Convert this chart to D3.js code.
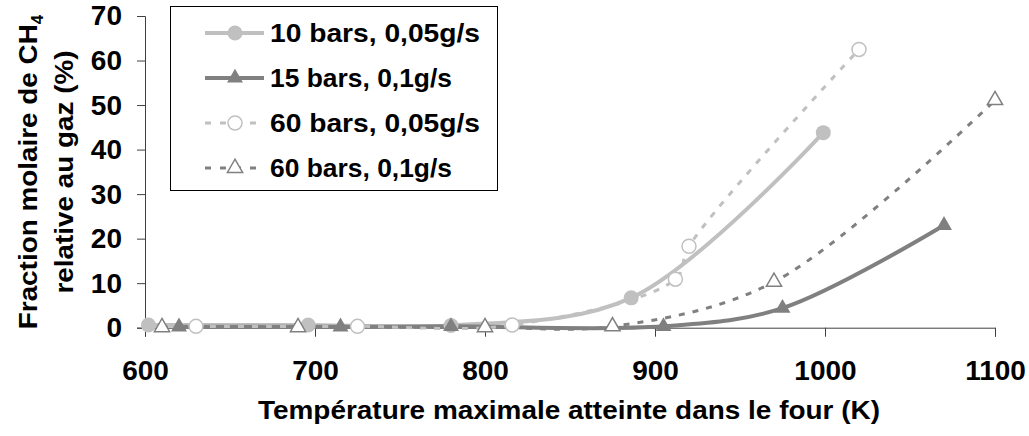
<!DOCTYPE html>
<html><head><meta charset="utf-8">
<script src="https://cdn.jsdelivr.net/npm/d3@7"></script>
<style>body{margin:0;background:#fff}svg{display:block}text{font-family:"Liberation Sans",Arial,sans-serif;font-weight:bold;fill:#000}</style>
</head><body>
<svg id="c" width="1029" height="436"></svg>
<script>
const seriesNames = ["10 bars, 0,05g/s", "15 bars, 0,1g/s", "60 bars, 0,05g/s", "60 bars, 0,1g/s"];
const s1T = [602, 696, 780, 886, 999];
const s1V = [0.6, 0.6, 0.5, 6.7, 43.8];
const s2T = [620, 715, 780, 905, 975, 1070];
const s2V = [0.2, 0.2, 0.3, 0.3, 4.4, 23.0];
const s3T = [630, 725, 816, 912, 920, 1020];
const s3V = [0.3, 0.3, 0.6, 10.9, 18.3, 62.5];
const s4T = [610, 690, 800, 875, 970, 1100];
const s4V = [0.1, 0.1, 0.1, 0.3, 10.3, 51.1];
const xTicks = [600, 700, 800, 900, 1000, 1100];
const yTicks = [0, 10, 20, 30, 40, 50, 60, 70];

const svg = d3.select("#c");
const x = d3.scaleLinear().domain([600, 1100]).range([145, 995]);
const y = d3.scaleLinear().domain([0, 70]).range([327.7, 16]);

// axes
const ax = svg.append("g").attr("transform", `translate(0,${y(0)})`)
  .call(d3.axisBottom(x).tickValues(xTicks).tickSize(9).tickPadding(23).tickFormat(d3.format("d")));
ax.select(".domain").attr("stroke", "#404040");
ax.selectAll(".tick line").attr("stroke", "#404040");
ax.selectAll(".tick text").style("font-size", "28px").attr("dy", "0.71em");

const ay = svg.append("g").attr("transform", `translate(${x(600)},0)`)
  .call(d3.axisLeft(y).tickValues(yTicks).tickSize(8).tickPadding(15));
ay.select(".domain").attr("stroke", "#404040");
ay.selectAll(".tick line").attr("stroke", "#404040");
ay.selectAll(".tick text").style("font-size", "28px").attr("text-anchor", "end");

// axis titles
svg.append("text").attr("x", 569).attr("y", 419).attr("text-anchor", "middle")
  .attr("textLength", 622).attr("lengthAdjust", "spacingAndGlyphs")
  .style("font-size", "26px").text("Température maximale atteinte dans le four (K)");
const yt = svg.append("g").attr("transform", "translate(0,172) rotate(-90)");
const t1 = yt.append("text").attr("x", 0).attr("y", 37).attr("text-anchor", "middle").style("font-size", "26px");
t1.append("tspan").attr("textLength", 305).attr("lengthAdjust", "spacingAndGlyphs").text("Fraction molaire de CH");
t1.append("tspan").attr("dy", 6).style("font-size", "17px").text("4");
yt.append("text").attr("x", 0).attr("y", 73).attr("text-anchor", "middle").style("font-size", "26px")
  .attr("textLength", 243).attr("lengthAdjust", "spacingAndGlyphs").text("relative au gaz (%)");

const series = [
  {T: s1T, V: s1V, color: "#c0c0c0", dash: null, marker: "circle", fill: true},
  {T: s2T, V: s2V, color: "#808080", dash: null, marker: "tri", fill: true},
  {T: s3T, V: s3V, color: "#c0c0c0", dash: "6,8", marker: "circle", fill: false},
  {T: s4T, V: s4V, color: "#808080", dash: "6,8", marker: "tri", fill: false}
];
const line = d3.line().x(d => x(d[0])).y(d => y(d[1])).curve(d3.curveCatmullRom.alpha(0.5));
const tri = d3.symbol().type(d3.symbolTriangle);

function marker(g, s, cx, cy) {
  if (s.marker === "circle") {
    g.append("circle").attr("cx", cx).attr("cy", cy).attr("r", s.fill ? 7.5 : 7)
      .attr("fill", s.fill ? s.color : "#fff").attr("stroke", s.color).attr("stroke-width", s.fill ? 0 : 1.5);
  } else {
    g.append("path").attr("d", tri.size(s.fill ? 110 : 100)()).attr("transform", `translate(${cx},${cy})`)
      .attr("fill", s.fill ? s.color : "#fff").attr("stroke", s.color).attr("stroke-width", s.fill ? 0 : 1.5);
  }
}

const plot = svg.append("g");
[0, 1, 2, 3].forEach(i => {
  const s = series[i];
  const pts = s.T.map((t, k) => [t, s.V[k]]);
  plot.append("path").attr("d", line(pts)).attr("fill", "none").attr("stroke", s.color)
    .attr("stroke-width", s.dash ? 3 : 4).attr("stroke-dasharray", s.dash);
});
[0, 1, 2, 3].forEach(i => {
  const s = series[i];
  const g = plot.append("g");
  s.T.forEach((t, k) => marker(g, s, x(t), y(s.V[k])));
});

// legend
const lg = svg.append("g");
lg.append("rect").attr("x", 170.5).attr("y", 6.5).attr("width", 327).attr("height", 184)
  .attr("fill", "#fff").attr("stroke", "#000").attr("stroke-width", 1);
const rowY = [33, 78, 123, 168];
const lgLen = [210, 182, 210, 182];
series.forEach((s, i) => {
  const yy = rowY[i];
  lg.append("line").attr("x1", 205).attr("x2", 264).attr("y1", yy).attr("y2", yy)
    .attr("stroke", s.color).attr("stroke-width", s.dash ? 3 : 4).attr("stroke-dasharray", s.dash ? "6,9" : null);
  marker(lg, s, 235, yy);
  lg.append("text").attr("x", 270).attr("y", yy).attr("dy", "0.35em").style("font-size", "25px")
    .attr("textLength", lgLen[i]).attr("lengthAdjust", "spacingAndGlyphs").text(seriesNames[i]);
});
</script>
</body></html>
